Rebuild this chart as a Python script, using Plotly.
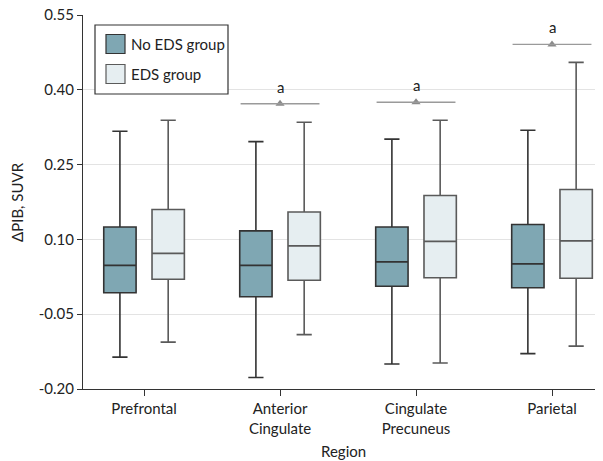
import plotly.graph_objects as go

regions = ["Prefrontal", "Anterior<br>Cingulate", "Cingulate<br>Precuneus", "Parietal"]
series_names = ["No EDS group", "EDS group"]

# Box statistics (ΔPIB, SUVR)
no_eds_low = [-0.136, -0.177, -0.150, -0.129]
no_eds_q1 = [-0.007, -0.015, 0.006, 0.003]
no_eds_med = [0.048, 0.048, 0.055, 0.051]
no_eds_q3 = [0.125, 0.117, 0.125, 0.130]
no_eds_high = [0.317, 0.296, 0.301, 0.319]

eds_low = [-0.106, -0.091, -0.148, -0.114]
eds_q1 = [0.020, 0.018, 0.023, 0.022]
eds_med = [0.072, 0.087, 0.096, 0.097]
eds_q3 = [0.160, 0.155, 0.188, 0.200]
eds_high = [0.339, 0.335, 0.339, 0.455]

# significance markers ("a") per region index and level
sig_region_idx = [1, 2, 3]
sig_level = [0.372, 0.375, 0.491]
sig_label = "a"

y_ticks = [-0.20, -0.05, 0.10, 0.25, 0.40, 0.55]
y_tick_text = ["-0.20", "-0.05", "0.10", "0.25", "0.40", "0.55"]

FONT = "Lato"
TXT = "#222222"
fills = ["#7fa7b3", "#e6eef1"]
borders = ["#333333", "#5a5a5a"]

# page body has a default 8px margin; compensate so the plot lands where the reference has it
OFF = 8
W, H = 603 - OFF, 461 - OFF
ML, MR, MT, MB = 83 - OFF, 0, 15 - OFF, 72
PW, PH = W - ML - MR, H - MT - MB


def px_x(x):  # page pixel -> paper
    return (x - OFF - ML) / PW


def px_y(y):
    return 1 - (y - OFF - MT) / PH


fig = go.Figure()
stats = [
    (no_eds_low, no_eds_q1, no_eds_med, no_eds_q3, no_eds_high),
    (eds_low, eds_q1, eds_med, eds_q3, eds_high),
]
xidx = list(range(len(regions)))
for i, (lo, q1, md, q3, hi) in enumerate(stats):
    fig.add_trace(go.Box(
        name=series_names[i],
        x=xidx,
        lowerfence=lo, q1=q1, median=md, q3=q3, upperfence=hi,
        fillcolor=fills[i],
        line=dict(color=borders[i], width=1.6),
        whiskerwidth=0.47,
        boxpoints=False,
        showlegend=False,
        hoverinfo="skip",
    ))

# significance lines, triangles and labels
half = 0.29
for ri, lv in zip(sig_region_idx, sig_level):
    fig.add_shape(type="line", x0=ri - half, x1=ri + half, y0=lv, y1=lv,
                  line=dict(color="#9a9a9a", width=1.4), layer="above")
    fig.add_annotation(x=ri, y=lv, text=sig_label, showarrow=False,
                       yshift=17, yanchor="middle",
                       font=dict(family=FONT, size=15, color=TXT))
fig.add_trace(go.Scatter(
    x=sig_region_idx, y=sig_level, mode="markers",
    marker=dict(symbol="triangle-up", size=8, color="#8a8a8a"),
    showlegend=False, hoverinfo="skip", cliponaxis=False,
))

# custom legend
fig.add_shape(type="rect", xref="paper", yref="paper",
              x0=px_x(95), x1=px_x(228), y0=px_y(94), y1=px_y(25),
              line=dict(color="#333333", width=1.2), fillcolor="white")
for k, name in enumerate(series_names):
    yc = [44, 74][k]
    fig.add_shape(type="rect", xref="paper", yref="paper",
                  x0=px_x(106), x1=px_x(125),
                  y0=px_y(yc + 9.5), y1=px_y(yc - 9.5),
                  line=dict(color=borders[k], width=1.2), fillcolor=fills[k])
    fig.add_annotation(xref="paper", yref="paper", x=px_x(129),
                       y=px_y(yc), text=name, showarrow=False,
                       xanchor="left", yanchor="middle",
                       font=dict(family=FONT, size=15, color=TXT))

# axis titles
fig.add_annotation(xref="paper", yref="paper", x=px_x(343), y=px_y(451),
                   text="Region", showarrow=False, xanchor="center", yanchor="middle",
                   font=dict(family=FONT, size=15, color=TXT))
fig.add_annotation(xref="paper", yref="paper", x=px_x(17), y=px_y(202),
                   text="ΔPIB, SUVR", showarrow=False, textangle=-90,
                   xanchor="center", yanchor="middle",
                   font=dict(family=FONT, size=15, color=TXT))

fig.update_layout(
    width=W, height=H,
    margin=dict(l=ML, r=MR, t=MT, b=MB),
    paper_bgcolor="white", plot_bgcolor="white",
    boxmode="group", boxgap=0.29, boxgroupgap=0.33,
    font=dict(family=FONT, size=14, color=TXT),
)
fig.update_xaxes(
    range=[-0.449, 3.375], automargin=False,
    tickmode="array", tickvals=xidx, ticktext=regions,
    showline=True, linecolor="#333333", linewidth=1.3,
    ticks="outside", ticklen=6, tickcolor="#333333", tickwidth=1.3,
    showgrid=False, zeroline=False, ticklabeloverflow="allow",
    tickfont=dict(family=FONT, size=15, color=TXT),
)
fig.update_yaxes(
    range=[-0.20, 0.55], automargin=False,
    tickmode="array", tickvals=y_ticks, ticktext=y_tick_text,
    showline=True, linecolor="#333333", linewidth=1.3,
    ticks="outside", ticklen=5, tickcolor="#333333", tickwidth=1.3,
    showgrid=True, gridcolor="#e3e3e3", gridwidth=1.3, zeroline=False,
    ticklabeloverflow="allow",
    tickfont=dict(family=FONT, size=15, color=TXT),
)

fig.write_html("out.html")
